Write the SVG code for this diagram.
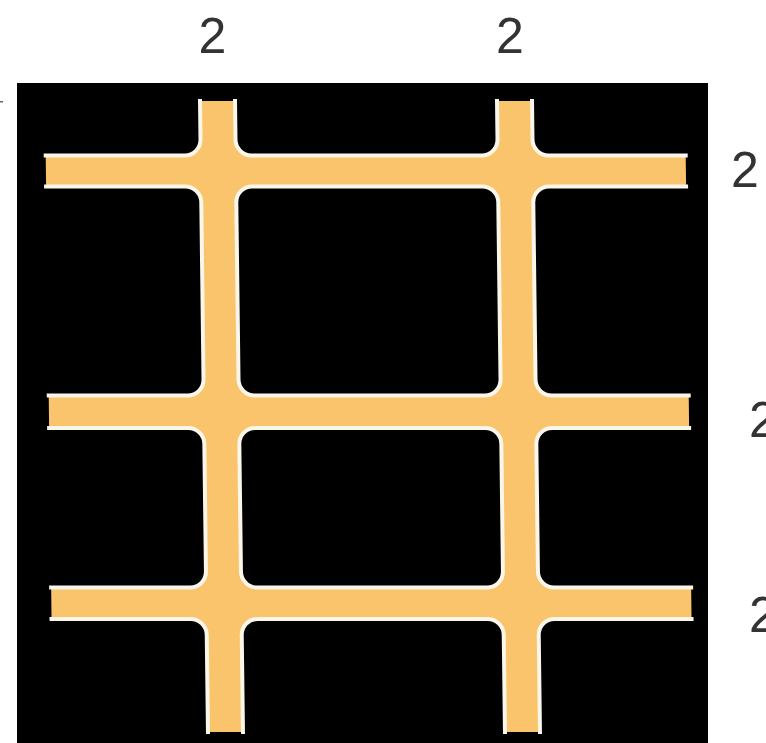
<svg xmlns="http://www.w3.org/2000/svg" width="766" height="743" viewBox="0 0 766 743">
  <style>
    .lbl { font-family: "Liberation Sans", Arial, sans-serif; font-size: 50px; fill: #333333; }
    .cell { fill: #000000; stroke: #FBF6EA; stroke-width: 4; }
  </style>
  <defs>
    <clipPath id="gridClip">
      <rect x="43" y="99" width="644" height="635"/>
    </clipPath>
  </defs>
  <rect x="0" y="0" width="766" height="743" fill="#ffffff"/>
  <rect x="0" y="101" width="3" height="1.5" fill="#666666"/>
  <g id="board">
    <rect x="17" y="83" width="691" height="660" fill="#000000"/>
    <g id="grid" transform="matrix(1,0,0.0126,1,-1.26,0)">
      <rect x="45" y="101" width="640" height="631" fill="#FAC46C"/>
      <g id="cells" clip-path="url(#gridClip)">
        <rect class="cell" x="-100" y="-100" width="300" height="255.5" rx="16"/>
        <rect class="cell" x="235" y="-100" width="262" height="255.5" rx="16"/>
        <rect class="cell" x="532" y="-100" width="400" height="255.5" rx="16"/>
        <rect class="cell" x="-100" y="186.5" width="300" height="209" rx="16"/>
        <rect class="cell" x="235" y="186.5" width="262" height="209" rx="16"/>
        <rect class="cell" x="532" y="186.5" width="400" height="209" rx="16"/>
        <rect class="cell" x="-100" y="428" width="300" height="159.5" rx="16"/>
        <rect class="cell" x="235" y="428" width="262" height="159.5" rx="16"/>
        <rect class="cell" x="532" y="428" width="400" height="159.5" rx="16"/>
        <rect class="cell" x="-100" y="619" width="300" height="400" rx="16"/>
        <rect class="cell" x="235" y="619" width="262" height="400" rx="16"/>
        <rect class="cell" x="532" y="619" width="400" height="400" rx="16"/>
      </g>
    </g>
  </g>
  <g id="labels">
    <text class="lbl" x="212.5" y="53" text-anchor="middle">2</text>
    <text class="lbl" x="510" y="53" text-anchor="middle">2</text>
    <text class="lbl" x="745" y="187" text-anchor="middle">2</text>
    <text class="lbl" x="749" y="437">2</text>
    <text class="lbl" x="749" y="632">2</text>
  </g>
</svg>
